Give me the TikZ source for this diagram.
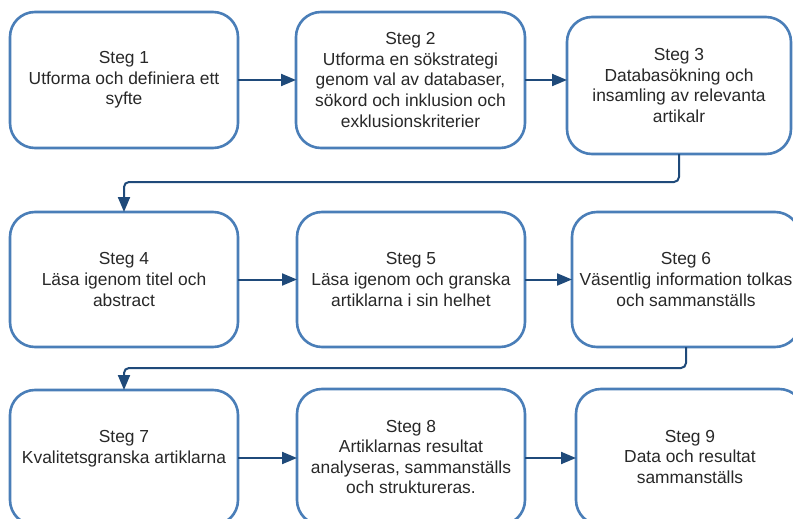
\documentclass[tikz,border=0pt]{standalone}
\usepackage{fontspec}
\setmainfont{Liberation Sans}
\usetikzlibrary{arrows.meta,calc}
\definecolor{boxblue}{RGB}{74,126,184}
\definecolor{arrownavy}{RGB}{31,74,122}
\definecolor{txtgray}{RGB}{40,40,40}
\tikzset{
  stepbox/.style={draw=boxblue, line width=2.6pt, rounded corners=25pt, fill=white,
    inner sep=0pt, outer sep=0pt, align=center, text=txtgray,
    font=\fontsize{17.4}{20.6}\selectfont},
  arr/.style={draw=arrownavy, line width=2pt,
    -{Triangle[length=15pt,width=12pt]}},
  turn/.style={arr, rounded corners=5pt}
}
\begin{document}
\begin{tikzpicture}[x=1pt,y=-1pt]
\useasboundingbox (0,0) rectangle (793,519);
\clip (0,0) rectangle (793,519);
\fill[white] (0,0) rectangle (793,519);

\node[stepbox, minimum width=228pt, minimum height=136pt] (b1) at (124,80)
  {Steg 1\\Utforma och definiera ett\\syfte};
\node[stepbox, minimum width=229pt, minimum height=136pt] (b2) at (410.5,80)
  {Steg 2\\Utforma en sökstrategi\\genom val av databaser,\\sökord och inklusion och\\exklusionskriterier};
\node[stepbox, minimum width=224pt, minimum height=137pt] (b3) at (679,85.5)
  {Steg 3\\Databasökning och\\insamling av relevanta\\artikalr};

\node[stepbox, minimum width=228pt, minimum height=135pt] (b4) at (124,279.5)
  {Steg 4\\Läsa igenom titel och\\abstract};
\node[stepbox, minimum width=228pt, minimum height=135pt] (b5) at (411,279.5)
  {Steg 5\\Läsa igenom och granska\\artiklarna i sin helhet};
\node[stepbox, minimum width=228pt, minimum height=135pt] (b6) at (686,279.5)
  {Steg 6\\Väsentlig information tolkas\\och sammanställs};

\node[stepbox, minimum width=228pt, minimum height=135pt] (b7) at (124,457.5)
  {Steg 7\\Kvalitetsgranska artiklarna\\\mbox{}};
\node[stepbox, minimum width=228pt, minimum height=136pt] (b8) at (411,457)
  {Steg 8\\Artiklarnas resultat\\analyseras, sammanställs\\och struktureras.};
\node[stepbox, minimum width=228pt, minimum height=136pt] (b9) at (690,457)
  {Steg 9\\Data och resultat\\sammanställs};

\draw[arr] (b1.east) -- (b1.east -| b2.west);
\draw[arr] (b2.east) -- (b2.east -| b3.west);
\draw[turn] (b3.south) -- ++(0,28) -| (b4.north);
\draw[arr] (b4.east) -- (b4.east -| b5.west);
\draw[arr] (b5.east) -- (b5.east -| b6.west);
\draw[turn] (b6.south) -- ++(0,21) -| (b7.north);
\draw[arr] ($(b7.east)+(0,0.5)$) -- ($(b7.east -| b8.west)+(0,0.5)$);
\draw[arr] ($(b8.east)+(0,1)$) -- ($(b8.east -| b9.west)+(0,1)$);
\end{tikzpicture}
\end{document}
